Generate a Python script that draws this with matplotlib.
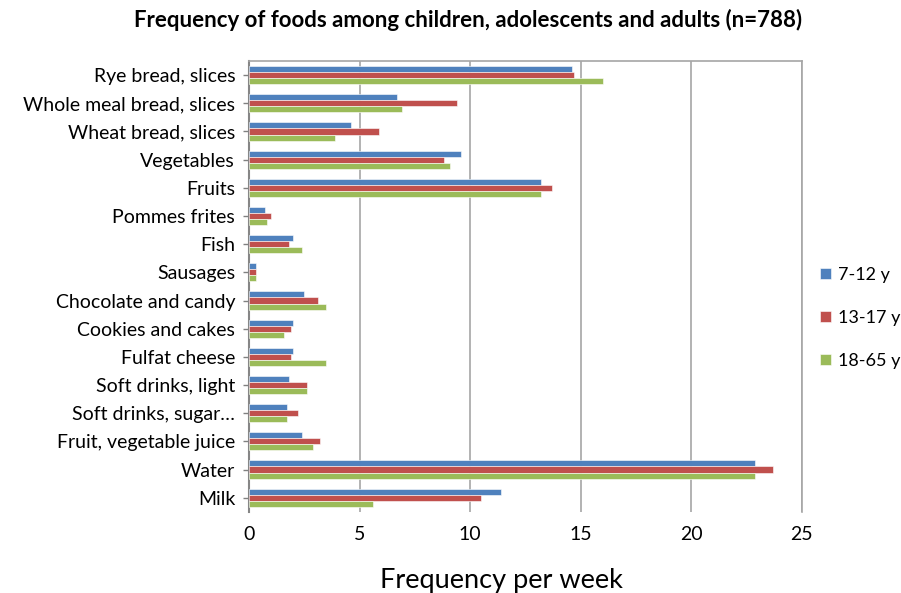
import numpy as np
import matplotlib.pyplot as plt

categories = ["Rye bread, slices", "Whole meal bread, slices", "Wheat bread, slices",
              "Vegetables", "Fruits", "Pommes frites", "Fish", "Sausages",
              "Chocolate and candy", "Cookies and cakes", "Fulfat cheese",
              "Soft drinks, light", "Soft drinks, sugar\u2026", "Fruit, vegetable juice",
              "Water", "Milk"]
kids = [14.6, 6.7, 4.6, 9.6, 13.2, 0.7, 2.0, 0.3, 2.5, 2.0, 2.0, 1.8, 1.7, 2.4, 22.9, 11.4]
teens = [14.7, 9.4, 5.9, 8.8, 13.7, 1.0, 1.8, 0.3, 3.1, 1.9, 1.9, 2.6, 2.2, 3.2, 23.7, 10.5]
adults = [16.0, 6.9, 3.9, 9.1, 13.2, 0.8, 2.4, 0.3, 3.5, 1.6, 3.5, 2.6, 1.7, 2.9, 22.9, 5.6]
series_names = ["7-12 y", "13-17 y", "18-65 y"]
colors = ["#4F81BD", "#C0504D", "#9BBB59"]

plt.rcParams['font.family'] = ['Lato', 'DejaVu Sans']

fig = plt.figure(figsize=(9.01, 5.93), dpi=100)
ax = fig.add_axes([0.2764, 0.137, 0.6135, 0.760])

n = len(categories)
y = np.arange(n)[::-1]  # first category at top
h = 0.215
for i, (vals, name, c) in enumerate(zip([kids, teens, adults], series_names, colors)):
    ax.barh(y + (1 - i) * h, vals, height=h, color=c, label=name,
            edgecolor='white', linewidth=0.4, zorder=3)

ax.set_xlim(0, 25)
ax.set_ylim(-0.5, n - 0.5)
ax.set_xticks(range(0, 26, 5))
ax.set_yticks(y)
ax.set_yticklabels(categories, fontsize=14)
ax.tick_params(axis='x', labelsize=14, length=0, pad=10)
ax.tick_params(axis='y', length=4, color='#808080', width=1, pad=6)
ax.grid(axis='x', color='#A6A6A6', linewidth=1.2, zorder=0)

for s in ['top', 'right']:
    ax.spines[s].set_color('#A6A6A6')
    ax.spines[s].set_linewidth(1.2)
ax.spines['left'].set_color('#868686')
ax.spines['left'].set_linewidth(1.5)
ax.spines['bottom'].set_visible(False)

ax.set_xlabel("Frequency per week", fontsize=19.5)
ax.xaxis.set_label_coords(0.456, -0.125)
fig.suptitle("Frequency of foods among children, adolescents and adults (n=788)",
             fontsize=16, fontweight='bold', x=0.52, y=0.985)

ax.legend(loc='center left', bbox_to_anchor=(1.0, 0.43), frameon=False,
          fontsize=13, labelspacing=1.5, handlelength=0.6, handleheight=0.6,
          handletextpad=0.4, borderaxespad=0.6)

plt.savefig('out.png', dpi=100)
